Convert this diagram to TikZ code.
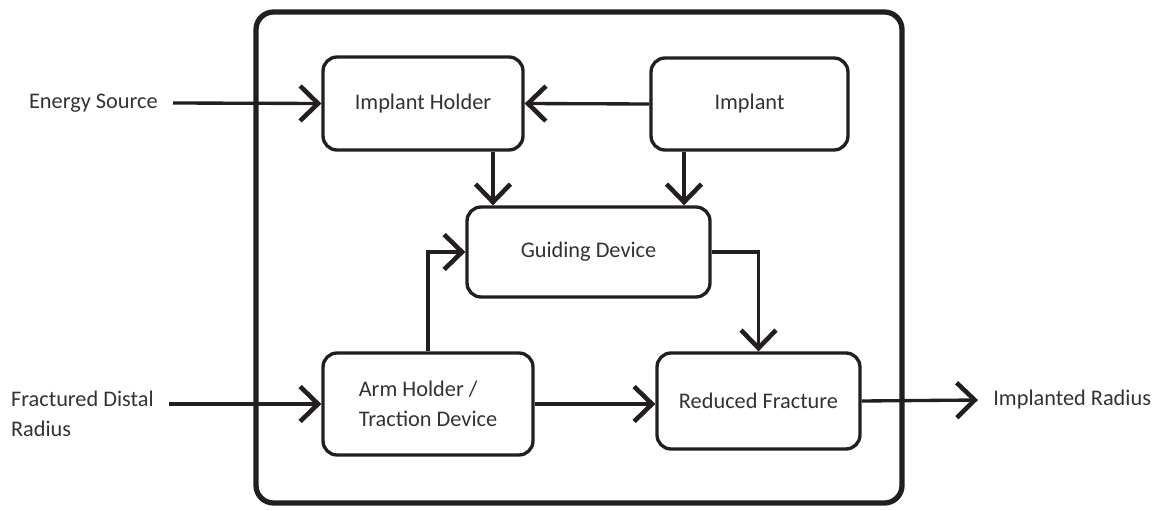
\documentclass[tikz,border=0pt]{standalone}
\usepackage{fontspec}
\setmainfont{Carlito}
\usepackage{xcolor}
\usepackage{tikz}
\usetikzlibrary{positioning,arrows.meta,calc}

\definecolor{ln}{RGB}{35,31,32}
\definecolor{txt}{RGB}{50,50,55}

\begin{document}
\begin{tikzpicture}[
  x=0.02cm, y=-0.02cm,
  font=\fontsize{12.7}{17}\selectfont,
  b/.style={draw=ln, line width=1.9pt, rounded corners=0.28cm, align=center, text=txt, fill=white},
  lab/.style={align=left, text=txt, inner xsep=0.3cm, inner ysep=2pt},
  arr/.style={draw=ln, line width=1.9pt, -{Straight Barb[length=3.6mm, width=7mm, line width=2.6pt]}}]

\useasboundingbox (0,0) rectangle (1165,510);

% system boundary
\draw[ln, line width=3pt, rounded corners=0.35cm] (256,12) rectangle (902,503);

\node[b, minimum width=4cm, minimum height=1.86cm] (ih) at (423,103.5) {Implant Holder};
\node[b, minimum width=3.94cm, minimum height=1.84cm] (imp) at (749.5,104) {Implant};
\node[b, minimum width=4.86cm, minimum height=1.8cm] (gd) at (588.5,252) {Guiding Device};
\node[b, minimum width=4.2cm, minimum height=2.04cm, align=left] (ah) at (428,404) {Arm Holder /\\Traction Device};
\node[b, minimum width=4.06cm, minimum height=1.92cm] (rf) at (758.5,401) {Reduced Fracture};

\node[lab, anchor=east] (src) at (173,103) {Energy Source};
\node[lab, anchor=north east] (fdr) at (169,387) {Fractured Distal\\Radius};
\node[lab, anchor=west] (ir) at (978,400) {Implanted Radius};

\draw[arr] (src.east) -- (ih.west);
\draw[arr] (imp.west) -- (ih.east);
\draw[arr] ([xshift=1.4cm]ih.south) -- ([xshift=1.4cm]ih.south |- gd.north);
\draw[arr] ([xshift=-1.31cm]imp.south) -- ([xshift=-1.31cm]imp.south |- gd.north);
\draw[arr] (ah.north) |- (gd.west);
\draw[arr] (gd.east) -| (rf.north);
\draw[arr] (fdr.east |- ah.west) -- (ah.west);
\draw[arr] (ah.east) -- (ah.east -| rf.west);
\draw[arr] (rf.east) -- (ir.west);
\end{tikzpicture}
\end{document}
